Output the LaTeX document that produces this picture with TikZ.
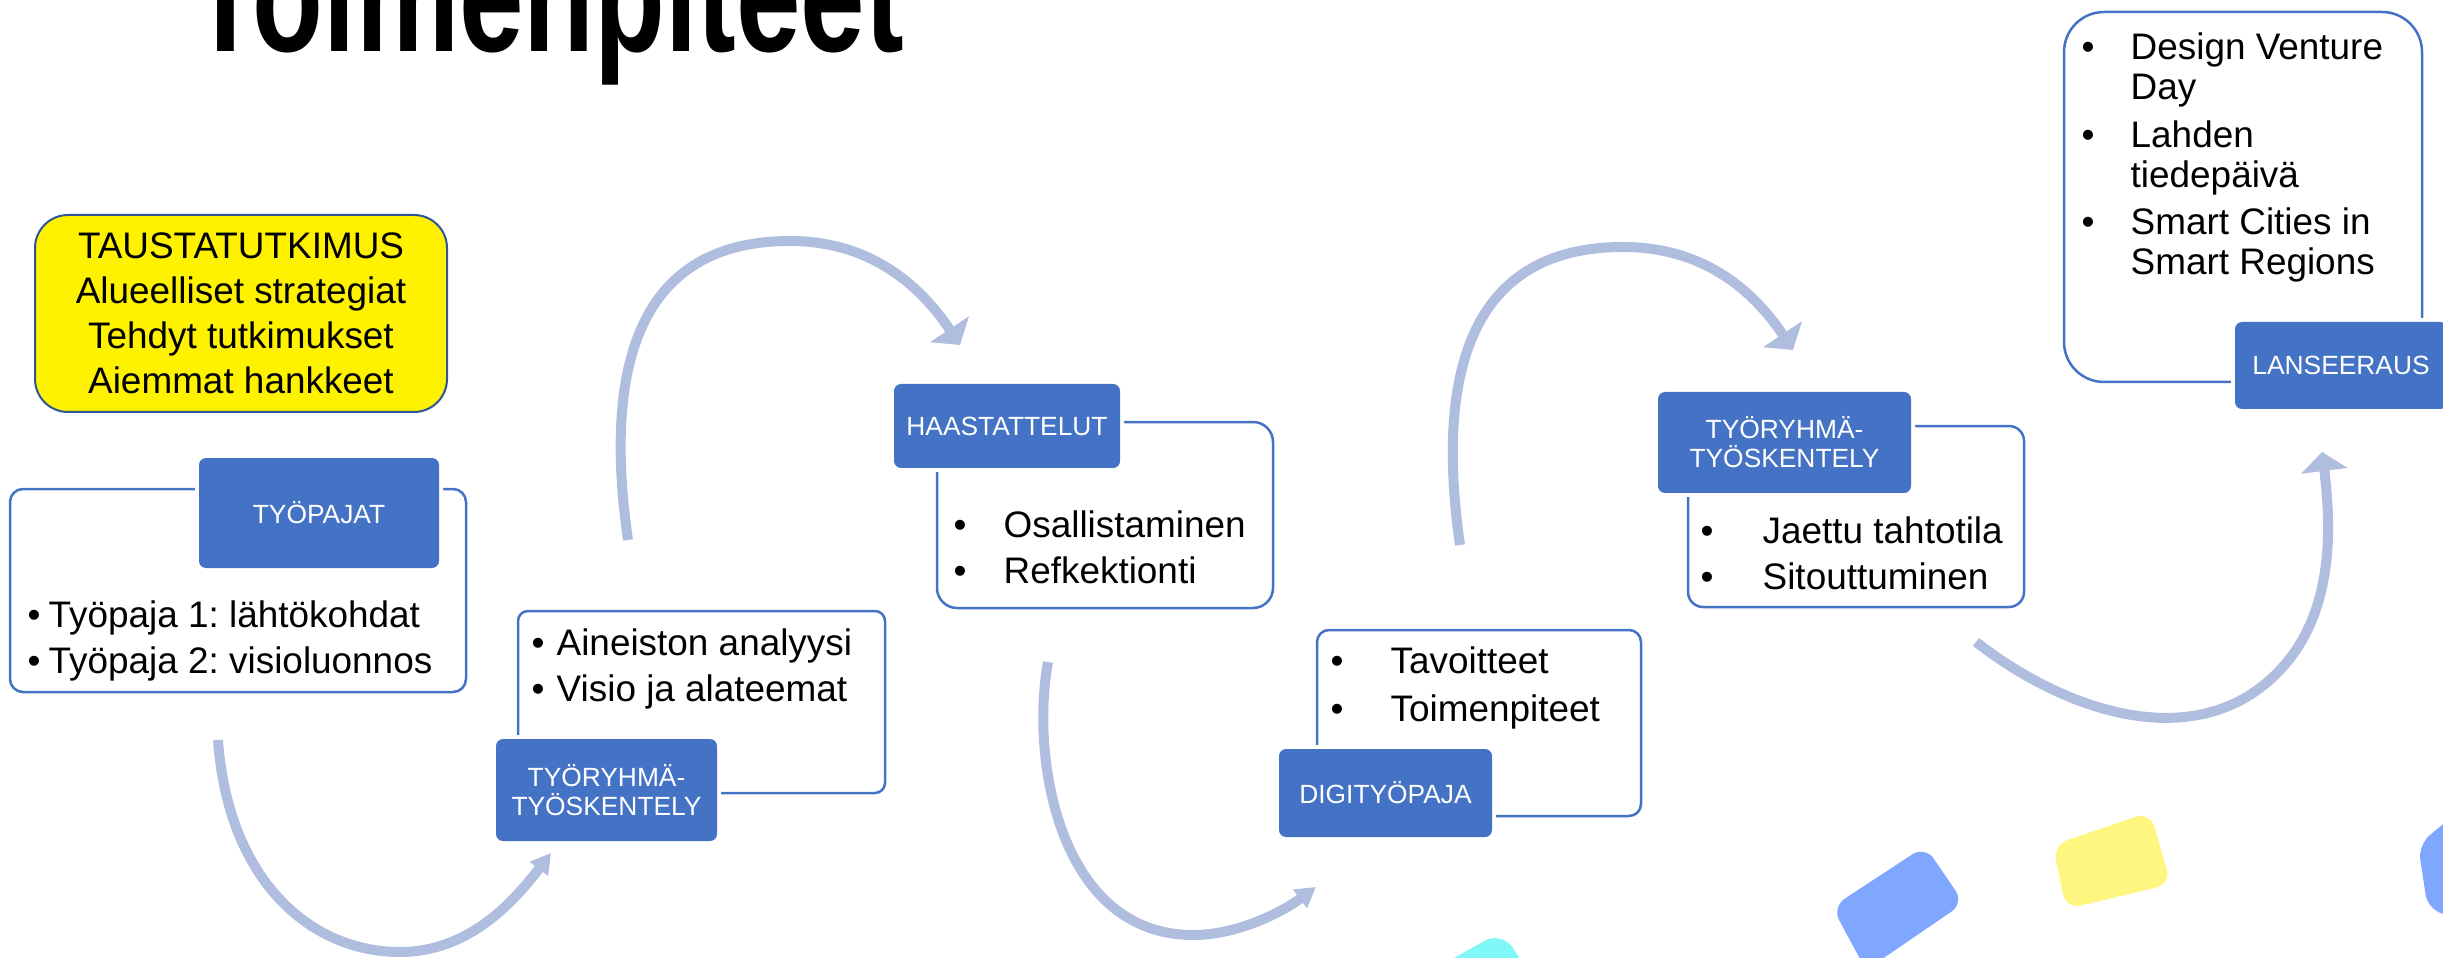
\documentclass[tikz,border=0pt]{standalone}
\usepackage{fontspec}
\setmainfont{Liberation Sans}
\usepackage{graphicx}
\usepackage{tikz}
\usetikzlibrary{arrows.meta,positioning}
\definecolor{boxblue}{HTML}{4472C4}
\definecolor{arcblue}{HTML}{AFBDDF}
\definecolor{notebg}{HTML}{FFF200}
\definecolor{noteline}{HTML}{2F5597}
\definecolor{chipblue}{HTML}{7FA7FF}
\definecolor{chipyellow}{HTML}{FFF680}
\definecolor{chipcyan}{HTML}{80F8FA}
\newcommand{\bodyfont}[1]{\fontsize{10.5}{#1}\selectfont}
\newcommand{\dotitem}[2]{\makebox[#1][l]{\textbullet}#2}
\frenchspacing

\tikzset{
  panel/.style={draw=boxblue, line width=0.25mm, rounded corners=#1, inner sep=0pt},
  panel/.default=1.3mm,
  tag/.style={fill=boxblue, text=white, rounded corners=0.7mm,
    preaction={draw=white, line width=0.8mm}, align=center, inner sep=0pt,
    font=\fontsize{7.5}{8.25}\selectfont},
  note/.style={fill=notebg, draw=noteline, line width=0.2mm, rounded corners=3.3mm,
    align=center, inner sep=0pt, font=\fontsize{10.5}{12.8}\selectfont},
  items/.style={anchor=base west, inner sep=0pt},
  bendarrow/.style={draw=arcblue, line width=1mm},
  widehead/.style={-{Triangle[width=4.6mm,length=1.9mm]}},
  narrowhead/.style={-{Triangle[width=2.2mm,length=2mm]}}
}

\begin{document}
\begin{tikzpicture}[x=0.1mm,y=-0.1mm]
  \useasboundingbox (0,0) rectangle (2443,958);
  \clip (0,0) rectangle (2443,958);

  % Title, cut by the top edge
  \node[anchor=base west, inner sep=0pt] (title) at (190,52)
    {\fontsize{33}{33}\selectfont\bfseries\scalebox{1}[1.4]{Toimenpiteet}};

  % Background research note
  \node[note, minimum width=41.2mm, minimum height=19.7mm] (tausta) at (241,313.5)
    {TAUSTATUTKIMUS\\Alueelliset strategiat\\Tehdyt tutkimukset\\Aiemmat hankkeet};

  % Panels
  \node[panel, minimum width=45.6mm, minimum height=20.3mm] (p1) at (238,590.5) {};
  \node[panel=1mm, minimum width=36.7mm, minimum height=18.2mm] (p2) at (701.5,702) {};
  \node[panel=2mm, minimum width=33.6mm, minimum height=18.6mm] (p3) at (1105,515) {};
  \node[panel=1.2mm, minimum width=32.4mm, minimum height=18.6mm] (p4) at (1479,723) {};
  \node[panel=1.5mm, minimum width=33.6mm, minimum height=18.1mm] (p5) at (1856,516.5) {};
  \node[panel=4mm, minimum width=35.8mm, minimum height=37mm] (p6) at (2243,197) {};

  % Stage labels
  \node[tag, minimum width=24mm, minimum height=11mm] (tyopajat) at (319,513) {TYÖPAJAT};
  \node[tag, minimum width=22.1mm, minimum height=10.2mm] (ryhma1) at (606.5,790) {TYÖRYHMÄ-\\TYÖSKENTELY};
  \node[tag, minimum width=22.6mm, minimum height=8.4mm] (haast) at (1007,426) {HAASTATTELUT};
  \node[tag, minimum width=21.3mm, minimum height=8.8mm] (digi) at (1385.5,793) {DIGITYÖPAJA};
  \node[tag, minimum width=25.3mm, minimum height=10.1mm] (ryhma2) at (1784.5,442.5) {TYÖRYHMÄ-\\TYÖSKENTELY};
  \node[tag, minimum width=21.2mm, minimum height=8.7mm] (lans) at (2341,365.5) {LANSEERAUS};

  % Bullet lists
  \node[items] (l1) at (27,627) {\bodyfont{13.09}\begin{tabular}[t]{@{}l@{}}
    \dotitem{2.1mm}{Työpaja 1: lähtökohdat}\\
    \dotitem{2.1mm}{Työpaja 2: visioluonnos}\end{tabular}};
  \node[items] (l2) at (531,655) {\bodyfont{13.37}\begin{tabular}[t]{@{}l@{}}
    \dotitem{2.5mm}{Aineiston analyysi}\\
    \dotitem{2.5mm}{Visio ja alateemat}\end{tabular}};
  \node[items] (l3) at (953,537) {\bodyfont{13.09}\begin{tabular}[t]{@{}l@{}}
    \dotitem{5mm}{Osallistaminen}\\
    \dotitem{5mm}{Refkektionti}\end{tabular}};
  \node[items] (l4) at (1330,673) {\bodyfont{13.94}\begin{tabular}[t]{@{}l@{}}
    \dotitem{6mm}{Tavoitteet}\\
    \dotitem{6mm}{Toimenpiteet}\end{tabular}};
  \node[items] (l5) at (1700,543) {\bodyfont{13.37}\begin{tabular}[t]{@{}l@{}}
    \dotitem{6.2mm}{Jaettu tahtotila}\\
    \dotitem{6.2mm}{Sitouttuminen}\end{tabular}};
  \node[items] (l6) at (2081,60) {\bodyfont{11.38}\begin{tabular}[t]{@{}l@{}}
    \dotitem{4.9mm}{Design Venture}\\
    \hspace*{4.9mm}Day\\[2pt]
    \dotitem{4.9mm}{Lahden}\\
    \hspace*{4.9mm}tiedepäivä\\[2pt]
    \dotitem{4.9mm}{Smart Cities in}\\
    \hspace*{4.9mm}Smart Regions\end{tabular}};

  % Arrow end points
  \coordinate (a1s) at (218,740);  \coordinate (a1m) at (400,952);  \coordinate (a1e) at (551,853);
  \coordinate (a2s) at (628,540);  \coordinate (a2m) at (790,241);  \coordinate (a2e) at (960,345);
  \coordinate (a3s) at (1048,662); \coordinate (a3m) at (1193,935); \coordinate (a3e) at (1316,887);
  \coordinate (a4s) at (1460,545); \coordinate (a4m) at (1623,247); \coordinate (a4e) at (1793,350);
  \coordinate (a5s) at (1976,642); \coordinate (a5m) at (2280,670); \coordinate (a5e) at (2322,452);

  % Curved arrows
  \draw[bendarrow, narrowhead] (a1s) .. controls +(10,140) and +(-90,0) .. (a1m)
    .. controls +(70,0) and +(-36,47) .. (a1e);
  \draw[bendarrow, widehead] (a2s) .. controls +(-23,-160) and +(-160,0) .. (a2m)
    .. controls +(80,0) and +(-40,-60) .. (a2e);
  \draw[bendarrow, narrowhead] (a3s) .. controls +(-18,98) and +(-133,0) .. (a3m)
    .. controls +(47,0) and +(-31,23) .. (a3e);
  \draw[bendarrow, widehead] (a4s) .. controls +(-23,-160) and +(-160,0) .. (a4m)
    .. controls +(80,0) and +(-40,-60) .. (a4e);
  \draw[bendarrow, widehead] (a5s) .. controls +(94,73) and +(-80,85) .. (a5m)
    .. controls +(50,-53) and +(11,88) .. (a5e);

  % Decorative chips
  \fill[chipblue, rounded corners=1.5mm] (1832,907) -- (1925,846) -- (1964,903) -- (1866,970) -- cycle;
  \fill[chipyellow, rounded corners=1.5mm] (2053,845) -- (2150,812) -- (2171,884) -- (2066,909) -- cycle;
  \fill[chipblue, rounded corners=1.5mm] (2460,810) -- (2418,845) -- (2428,910) -- (2460,918) -- cycle;
  \fill[chipcyan, rounded corners=2mm] (1415,980) -- (1502,931) -- (1540,990) -- cycle;
\end{tikzpicture}
\end{document}
